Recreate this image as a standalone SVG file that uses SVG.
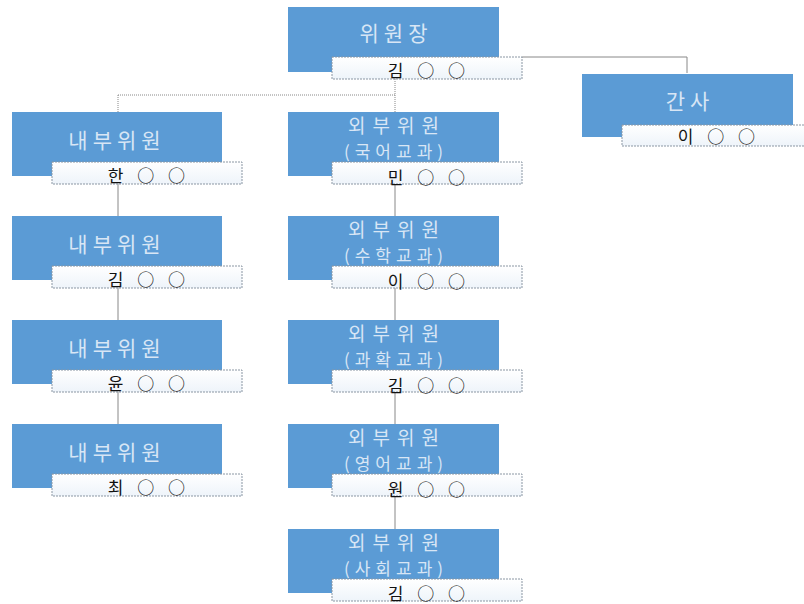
<svg xmlns="http://www.w3.org/2000/svg" width="804" height="604" viewBox="0 0 804 604">
<style>
.box{fill:#5B9BD5;}
.lab{fill:url(#lg);stroke:#8A96A3;stroke-width:1;stroke-dasharray:2 1;}
.t{font-family:"Noto Sans CJK KR","Noto Sans",sans-serif;font-size:21px;letter-spacing:5px;fill:#D8E6F5;text-anchor:middle;}
.o{font-family:"Noto Sans CJK KR","Noto Sans",sans-serif;font-size:19px;letter-spacing:7px;fill:#D8E6F5;text-anchor:middle;}
.p{font-family:"Noto Sans CJK KR","Noto Sans",sans-serif;font-size:17px;letter-spacing:5px;fill:#D8E6F5;text-anchor:middle;}
.n{font-family:"Noto Sans CJK KR","Noto Sans",sans-serif;font-size:17px;letter-spacing:5px;fill:#111;text-anchor:middle;}
.c{stroke:#888;stroke-width:1;fill:none;}
</style>
<defs>
<linearGradient id="lg" x1="0" y1="0" x2="0" y2="1">
<stop offset="0" stop-color="#FFFFFF"/>
<stop offset="1" stop-color="#EEF4FA"/>
</linearGradient>
</defs>
<rect width="804" height="604" fill="#fff"/>
<g id="connectors">
<path class="c" d="M395 79V112M118 95H395M118 95V112" stroke-dasharray="1 1"/>
<path class="c" d="M522 57H687V73"/>
<path class="c" d="M118 184V216M118 288V320M118 392V424"/>
<path class="c" d="M395 184V216M395 288V320M395 392V424M395 496V529"/>
</g>
<g id="chair">
<rect class="box" x="288" y="7" width="211" height="65"/>
<text class="t" x="396" y="41">위원장</text>
<rect class="lab" x="332" y="57" width="190" height="22"/>
<text class="n" x="429" y="77">김 ○ ○</text>
</g>
<g id="secretary">
<rect class="box" x="582" y="74" width="211" height="63"/>
<text class="t" x="690" y="109">간사</text>
<rect class="lab" x="622" y="125" width="190" height="21"/>
<text class="n" x="719" y="143">이 ○ ○</text>
</g>
<g id="in1">
<rect class="box" x="12" y="112" width="210" height="64"/>
<text class="t" x="117" y="148">내부위원</text>
<rect class="lab" x="52" y="162" width="190" height="22"/>
<text class="n" x="149" y="182">한 ○ ○</text>
</g>
<g id="in2">
<rect class="box" x="12" y="216" width="210" height="64"/>
<text class="t" x="117" y="252">내부위원</text>
<rect class="lab" x="52" y="266" width="190" height="22"/>
<text class="n" x="149" y="286">김 ○ ○</text>
</g>
<g id="in3">
<rect class="box" x="12" y="320" width="210" height="64"/>
<text class="t" x="117" y="356">내부위원</text>
<rect class="lab" x="52" y="370" width="190" height="22"/>
<text class="n" x="149" y="390">윤 ○ ○</text>
</g>
<g id="in4">
<rect class="box" x="12" y="424" width="210" height="64"/>
<text class="t" x="117" y="460">내부위원</text>
<rect class="lab" x="52" y="474" width="190" height="22"/>
<text class="n" x="149" y="494">최 ○ ○</text>
</g>
<g id="out1">
<rect class="box" x="288" y="112" width="211" height="64"/>
<text class="o" x="397" y="133">외부위원</text>
<text class="p" x="396" y="158">(국어교과)</text>
<rect class="lab" x="332" y="162" width="190" height="22"/>
<text class="n" x="429" y="184">민 ○ ○</text>
</g>
<g id="out2">
<rect class="box" x="288" y="216" width="211" height="64"/>
<text class="o" x="397" y="237">외부위원</text>
<text class="p" x="396" y="262">(수학교과)</text>
<rect class="lab" x="332" y="266" width="190" height="22"/>
<text class="n" x="429" y="288">이 ○ ○</text>
</g>
<g id="out3">
<rect class="box" x="288" y="320" width="211" height="64"/>
<text class="o" x="397" y="341">외부위원</text>
<text class="p" x="396" y="366">(과확교과)</text>
<rect class="lab" x="332" y="370" width="190" height="22"/>
<text class="n" x="429" y="392">김 ○ ○</text>
</g>
<g id="out4">
<rect class="box" x="288" y="424" width="211" height="64"/>
<text class="o" x="397" y="445">외부위원</text>
<text class="p" x="396" y="470">(영어교과)</text>
<rect class="lab" x="332" y="474" width="190" height="22"/>
<text class="n" x="429" y="496">원 ○ ○</text>
</g>
<g id="out5">
<rect class="box" x="288" y="529" width="211" height="64"/>
<text class="o" x="397" y="550">외부위원</text>
<text class="p" x="396" y="575">(사회교과)</text>
<rect class="lab" x="332" y="579" width="190" height="22"/>
<text class="n" x="429" y="600">김 ○ ○</text>
</g>
</svg>
